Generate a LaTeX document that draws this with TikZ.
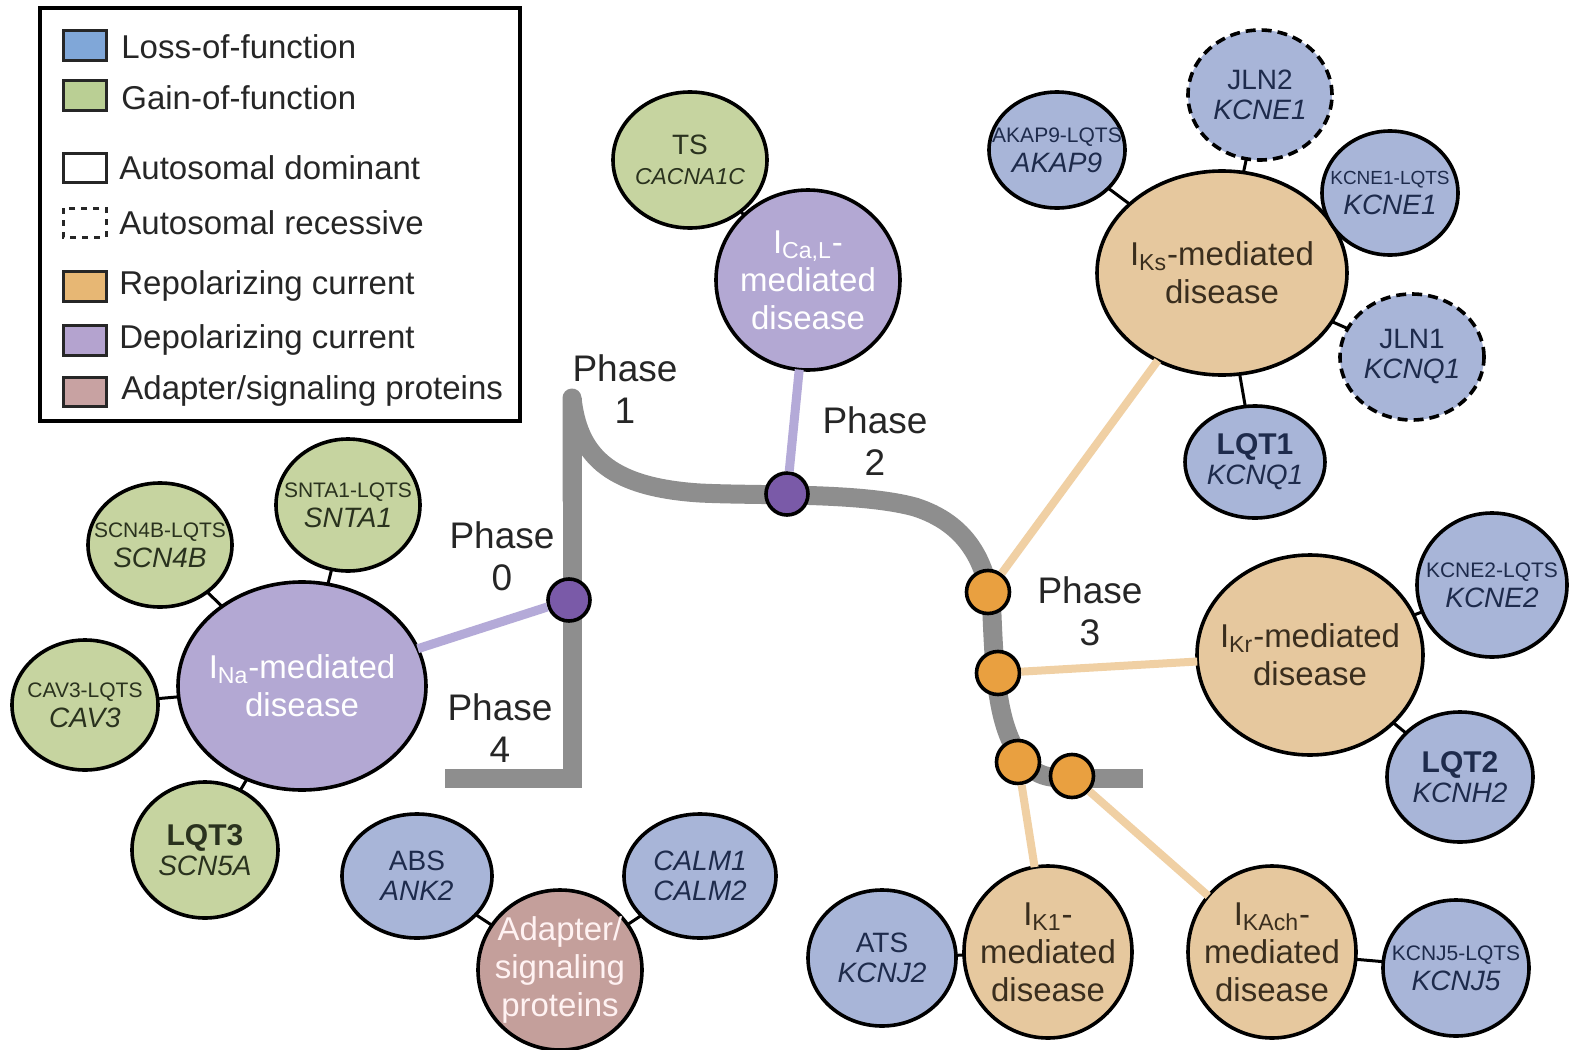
\documentclass[tikz,border=0pt]{standalone}
\usepackage{fontspec}
\setmainfont{Liberation Sans}
\usetikzlibrary{shapes.geometric}

\definecolor{blueF}{HTML}{A8B5D8}
\definecolor{greenF}{HTML}{C6D4A0}
\definecolor{tanF}{HTML}{E6C89E}
\definecolor{purpF}{HTML}{B3A8D3}
\definecolor{adaptF}{HTML}{C49F9B}
\definecolor{dotP}{HTML}{7A5AA8}
\definecolor{dotO}{HTML}{E9A040}
\definecolor{waveC}{HTML}{8E8E8E}
\definecolor{connP}{HTML}{B4AAD8}
\definecolor{connO}{HTML}{F0D0A4}
\definecolor{txtB}{HTML}{1E2B4C}
\definecolor{txtG}{HTML}{2A321E}
\definecolor{txtT}{HTML}{3A2E1E}
\definecolor{legB}{HTML}{80A7D8}
\definecolor{legG}{HTML}{BACF94}
\definecolor{legO}{HTML}{E7B774}
\definecolor{legP}{HTML}{B4A3CF}
\definecolor{legA}{HTML}{C8A2A2}

\newcommand{\fsz}[2]{\fontsize{#1}{#2}\selectfont}
\newcommand{\zb}[1]{\makebox[0pt]{#1}}
\newcommand{\sm}[1]{\zb{\fsz{10.5}{15}#1}}

\tikzset{
  x=0.5pt, y=-0.5pt,
  bub/.style={ellipse, draw=black, line width=1.8pt, inner sep=0pt, outer sep=0pt, align=center},
  sz/.style 2 args={minimum width=#1pt, minimum height=#2pt},
  lof/.style={bub, fill=blueF, text=txtB, font=\fsz{14}{15}},
  gof/.style={bub, fill=greenF, text=txtG, font=\fsz{14}{15}},
  recess/.style={dash pattern=on 5pt off 3pt},
  repol/.style={bub, fill=tanF, text=txtT, font=\fsz{16.5}{19}},
  depol/.style={bub, fill=purpF, text=white, font=\fsz{16.5}{19}},
  adapt/.style={bub, fill=adaptF, text=white!95!red, font=\fsz{16.5}{19}},
  pdot/.style={circle, draw=black, line width=1.8pt, fill=dotP, minimum size=21pt, inner sep=0pt},
  odot/.style={circle, draw=black, line width=1.8pt, fill=dotO, minimum size=21.5pt, inner sep=0pt},
  link/.style={line width=1.5pt, black},
  pconn/.style={line width=4.5pt, connP},
  oconn/.style={line width=4pt, connO},
  phase/.style={font=\fsz{18.5}{21}, align=center, text=black!85},
  legtxt/.style={anchor=west, font=\fsz{16.5}{20}, text=black!85, inner sep=0pt},
  legsq/.style={draw=black!85, line width=1.5pt},
  wave/.style={waveC, line width=9.5pt},
}

\begin{document}
\begin{tikzpicture}
\useasboundingbox (0,0) rectangle (1571,1050);
\fill[white] (0,0) rectangle (1571,1050);

% ---------- legend ----------
\draw[line width=2pt] (40,8) rectangle (520,421);
\draw[legsq, fill=legB] (63,30) rectangle (106,60);
\draw[legsq, fill=legG] (63,80) rectangle (106,110);
\draw[legsq, fill=white] (63,153) rectangle (106,182);
\draw[legsq, fill=white, dashed] (63,208) rectangle (106,237);
\draw[legsq, fill=legO] (63,271) rectangle (106,301);
\draw[legsq, fill=legP] (63,325) rectangle (106,355);
\draw[legsq, fill=legA] (63,377) rectangle (106,406);
\node[legtxt] (lg1) at (121,47) {Loss-of-function};
\node[legtxt] (lg2) at (121,98) {Gain-of-function};
\node[legtxt] (lg3) at (119,168) {Autosomal dominant};
\node[legtxt] (lg4) at (119,223) {Autosomal recessive};
\node[legtxt] (lg5) at (119,286) {Repolarizing current};
\node[legtxt] (lg6) at (119,340) {Depolarizing current};
\node[legtxt] (lg7) at (121,391) {Adapter/signaling proteins};

% ---------- action potential waveform ----------
\draw[wave]
  (445,778) -- (572,778) -- (572,398);
\draw[wave, line join=round, line cap=round]
  (572,500) -- (572,398)
  .. controls (578,452) and (605,487) .. (700,493)
  .. controls (760,496) and (860,492) .. (915,507)
  .. controls (965,523) and (988,560) .. (992,615)
  .. controls (995,690) and (1000,740) .. (1030,768)
  .. controls (1042,777) and (1052,778) .. (1068,778);
\draw[wave] (1060,778) -- (1143,778);

% ---------- phase labels ----------
\node[phase] (ph1) at (625,389) {Phase\\1};
\node[phase] (ph2) at (875,441) {Phase\\2};
\node[phase] (ph0) at (502,556) {Phase\\0};
\node[phase] (ph4) at (500,728) {Phase\\4};
\node[phase] (ph3) at (1090,611) {Phase\\3};

% ---------- phase dots ----------
\node[pdot] (p0) at (569,600) {};
\node[pdot] (p2) at (787,494) {};
\node[odot] (p3a) at (988,592) {};
\node[odot] (p3b) at (998,673) {};
\node[odot] (p3c) at (1018,762) {};
\node[odot] (p3d) at (1072,776) {};

% ---------- INa cluster ----------
\node[depol, sz={124}{104}] (ina) at (302,686) {\zb{I\textsubscript{Na}-mediated}\\\zb{disease}};
\node[gof, sz={72}{62}] (scn4b) at (160,545) {\sm{SCN4B-LQTS}\\\zb{\itshape SCN4B}};
\node[gof, sz={72}{66}] (snta1) at (348,505) {\sm{SNTA1-LQTS}\\\zb{\itshape SNTA1}};
\node[gof, sz={73}{65}] (cav3) at (85,705) {\sm{CAV3-LQTS}\\\zb{\itshape CAV3}};
\node[gof, sz={73}{68}] (lqt3) at (205,850) {\zb{\fsz{15}{15}\bfseries LQT3}\\\zb{\itshape SCN5A}};

% ---------- ICaL cluster ----------
\node[depol, sz={92}{90}] (ical) at (808,280) {\zb{I\textsubscript{Ca,L}-}\\\zb{mediated}\\\zb{disease}};
\node[gof, sz={77}{68}] (ts) at (690,160) {\zb{TS}\\\zb{\fsz{11.5}{15}\itshape CACNA1C}};

% ---------- IKs cluster ----------
\node[repol, sz={125}{102}] (iks) at (1222,273) {\zb{I\textsubscript{Ks}-mediated}\\\zb{disease}};
\node[lof, sz={68}{58}] (akap9) at (1057,150) {\sm{AKAP9-LQTS}\\\zb{\itshape AKAP9}};
\node[lof, sz={72}{65}, recess] (jln2) at (1260,95) {\zb{JLN2}\\\zb{\itshape KCNE1}};
\node[lof, sz={68}{62}] (kcne1) at (1390,193) {\zb{\fsz{9.5}{15}KCNE1-LQTS}\\\zb{\itshape KCNE1}};
\node[lof, sz={72}{63}, recess] (jln1) at (1412,357) {\zb{JLN1}\\\zb{\itshape KCNQ1}};
\node[lof, sz={70}{56}] (lqt1) at (1255,462) {\zb{\fsz{15}{15}\bfseries LQT1}\\\zb{\itshape KCNQ1}};

% ---------- IKr cluster ----------
\node[repol, sz={113}{100}] (ikr) at (1310,655) {\zb{I\textsubscript{Kr}-mediated}\\\zb{disease}};
\node[lof, sz={75}{72}] (kcne2) at (1492,585) {\sm{KCNE2-LQTS}\\\zb{\itshape KCNE2}};
\node[lof, sz={73}{65}] (lqt2) at (1460,777) {\zb{\fsz{15}{15}\bfseries LQT2}\\\zb{\itshape KCNH2}};

% ---------- IK1 / IKAch ----------
\node[repol, sz={84}{86}] (ik1) at (1048,952) {\zb{I\textsubscript{K1}-}\\\zb{mediated}\\\zb{disease}};
\node[lof, sz={74}{68}] (ats) at (882,958) {\zb{ATS}\\\zb{\itshape KCNJ2}};
\node[repol, sz={84}{86}] (ikach) at (1272,952) {\zb{I\textsubscript{KAch}-}\\\zb{mediated}\\\zb{disease}};
\node[lof, sz={73}{68}] (kcnj5) at (1456,968) {\sm{KCNJ5-LQTS}\\\zb{\itshape KCNJ5}};

% ---------- adapter cluster ----------
\node[adapt, sz={82}{80}] (adp) at (560,970) {\zb{Adapter/}\\\zb{signaling}\\\zb{proteins}};
\node[lof, sz={75}{62}] (abs) at (417,876) {\zb{ABS}\\\zb{\itshape ANK2}};
\node[lof, sz={76}{62}] (calm) at (700,876) {\zb{\itshape CALM1}\\\zb{\itshape CALM2}};

% ---------- connectors: phase -> disease ----------
\draw[pconn] (p0) -- (ina);
\draw[pconn] (p2) -- (ical);
\draw[oconn] (p3a) -- (iks);
\draw[oconn] (p3b) -- (ikr);
\draw[oconn] (p3c) -- (ik1);
\draw[oconn] (p3d) -- (ikach);

% ---------- connectors: gene -> disease ----------
\draw[link] (scn4b) -- (ina);
\draw[link] (snta1) -- (ina);
\draw[link] (cav3) -- (ina);
\draw[link] (lqt3) -- (ina);
\draw[link] (ts) -- (ical);
\draw[link] (akap9) -- (iks);
\draw[link] (jln2) -- (iks);
\draw[link] (kcne1) -- (iks);
\draw[link] (jln1) -- (iks);
\draw[link] (lqt1) -- (iks);
\draw[link] (kcne2) -- (ikr);
\draw[link] (lqt2) -- (ikr);
\draw[link] (ats) -- (ik1);
\draw[link] (kcnj5) -- (ikach);
\draw[link] (abs) -- (adp);
\draw[link] (calm) -- (adp);
\end{tikzpicture}
\end{document}
